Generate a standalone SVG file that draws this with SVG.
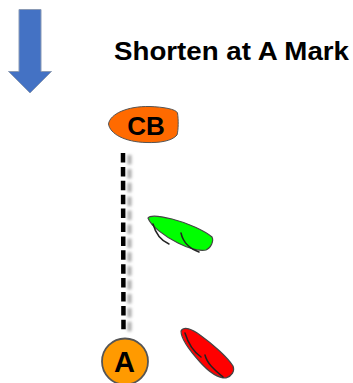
<svg xmlns="http://www.w3.org/2000/svg" width="353" height="383" viewBox="0 0 353 383">
<defs>
<filter id="blur" filterUnits="userSpaceOnUse" x="110" y="140" width="40" height="205"><feGaussianBlur stdDeviation="1.800"/></filter>
</defs>
<style>
text{font-family:"Liberation Sans",Arial,sans-serif;font-weight:bold;fill:#000;text-anchor:middle}
.hull{stroke:#444;stroke-width:1.200}
.sail{fill:none;stroke:#222;stroke-width:1.500;stroke-linecap:round}
</style>
<rect width="353" height="383" fill="#fff"/>
<g id="wind-arrow"><path d="M19 9.500H41V71.500H51.500L30 93L8.500 71.500H19Z" fill="#4472c4" stroke="#8a9ab5" stroke-width="1"/></g>
<g id="title"><text x="231.500" y="60" font-size="26.500" textLength="235" lengthAdjust="spacingAndGlyphs">Shorten at A Mark</text></g>
<g id="connectors">
<line x1="129.500" y1="155" x2="129.500" y2="333" stroke="#aaa" stroke-width="4" stroke-dasharray="9.500 4.400" filter="url(#blur)"/>
<line x1="123" y1="153" x2="123.500" y2="332" stroke="#000" stroke-width="4.500" stroke-dasharray="9.500 4.400"/>
</g>
<g id="node-cb">
<path d="M108.500 124C110 114 127 106 150 106.500C163 107 176 109 177.500 113C178.500 119 178.500 130 177 135C172 141 160 143 146 142.500C125 142 110 134 108.500 124Z" fill="#ff6a00" stroke="#555" stroke-width="1"/>
<text x="146" y="134.500" font-size="26">CB</text>
</g>
<g id="node-a">
<circle cx="125" cy="361.500" r="23" fill="#ff9a00" stroke="#555" stroke-width="1.800"/>
<text x="124.500" y="372" font-size="29">A</text>
</g>
<g id="boat-green">
<path class="hull" d="M148 218C150 215 160 216 172 219C188 223 205 231 212 237C214 241 211 248 206 250C200 251 190 249 178 243C164 236 151 226 148 218Z" fill="#00ff00"/>
<path class="sail" d="M153 224C156 235 162 241 169 244"/>
<path class="sail" d="M181 233C183 242 190 249 199 252"/>
</g>
<g id="boat-red">
<path class="hull" d="M181 331C184 326 192 329 200 335C214 345 228 358 233 366C235 371 232 376 226 378C218 378 208 371 200 362C190 351 181 338 181 331Z" fill="#ff0000"/>
<path class="sail" d="M185 333C188 343 194 352 201 357"/>
<path class="sail" d="M205 355C207 364 216 371 223 377"/>
</g>
</svg>
